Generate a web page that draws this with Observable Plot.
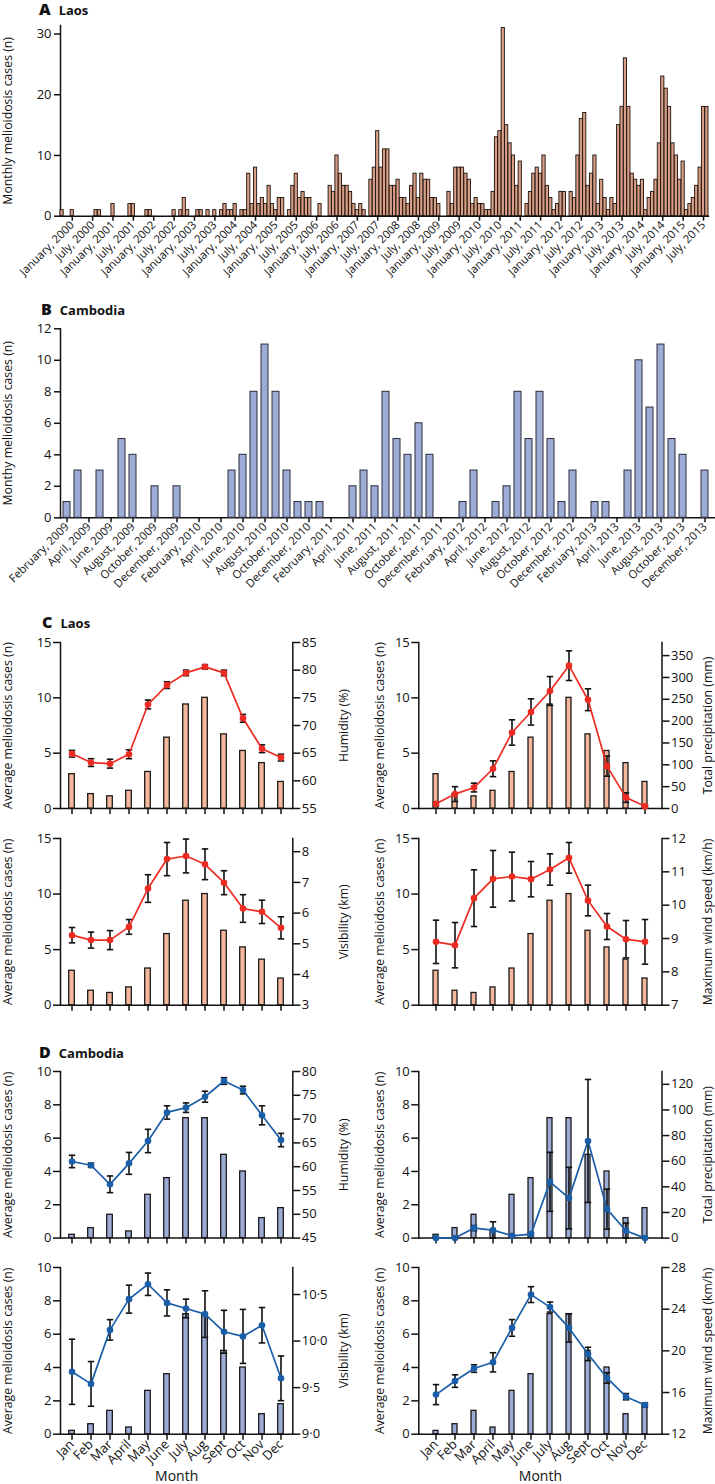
<!DOCTYPE html>
<html><head><meta charset="utf-8">
<script src="https://cdn.jsdelivr.net/npm/d3@7"></script>
<script src="https://cdn.jsdelivr.net/npm/@observablehq/plot@0.6"></script>
<style>
html,body{margin:0;padding:0;background:#fff;}
body{width:715px;height:1484px;position:relative;overflow:hidden;font-family:"Open Sans",sans-serif;}
.p{position:absolute;}
.ttl{position:absolute;font-weight:bold;font-size:13px;line-height:18px;white-space:nowrap;color:#111;}
.ttl b{font-size:16px;margin-right:8px;}
.p svg text{font-size:13px;}
.p svg g[aria-label$="axis label"] text{font-size:12.3px;}
#pA svg g[aria-label^="x-axis tick"] text, #pA svg g[aria-label="x-axis"] text{font-size:11.3px;}
#pB svg g[aria-label^="x-axis tick"] text, #pB svg g[aria-label="x-axis"] text{font-size:11.3px;}
.p svg g[aria-label="x-axis label"] text{font-size:14px;}
.p svg g[aria-label*="axis"] path, .p svg g[aria-label*="axis"] line,
.p svg line[aria-label="frame"], .p svg g[aria-label="frame"] line{stroke-width:1.5px;}
</style></head><body>
<div id="root"></div>
<script>
// ---------- Panel A: Laos monthly cases (first month Oct 1999) ----------
const laosStart = [1999, 9];
const laosMonthly = [
  1,0,0,1,0,0,0,0,0,0,
  1,1,0,0,0,2,0,0,0,0,
  2,2,0,0,0,1,1,0,0,0,
  0,0,0,1,0,1,3,1,0,0,
  1,1,0,1,0,1,0,1,2,1,
  1,2,0,1,1,7,2,8,2,3,
  2,5,2,1,3,3,0,1,5,7,
  3,4,3,3,0,0,2,0,0,5,
  4,10,7,5,5,4,2,1,2,1,
  0,6,8,14,8,11,11,5,5,6,
  3,3,2,5,7,3,7,6,6,3,
  3,2,0,0,4,2,8,8,8,7,
  6,2,3,2,2,1,1,4,13,14,
  31,15,12,10,5,9,0,2,4,7,
  8,7,10,5,3,1,2,4,4,0,
  4,3,10,16,17,5,7,10,2,6,
  3,1,3,2,15,18,26,18,7,6,
  5,6,1,3,4,6,12,23,21,18,
  12,10,6,9,1,2,3,5,8,18,
  18];
const laosTickLabels = ["January, 2000","July, 2000","January, 2001","July, 2001","January, 2002","July, 2002",
  "January, 2003","July, 2003","January, 2004","July, 2004","January, 2005","July, 2005","January, 2006","July, 2006",
  "January, 2007","July, 2007","January, 2008","July, 2008","January, 2009","July, 2009","January, 2010","July, 2010",
  "January, 2011","July, 2011","January, 2012","July, 2012","January, 2013","July, 2013","January, 2014","July, 2014",
  "January, 2015","July, 2015"];

// ---------- Panel B: Cambodia monthly cases (first month Feb 2009) ----------
const cambStart = [2009, 1];
const cambMonthly = [
  1,3,0,3,0,5,4,0,2,0,
  2,0,0,0,0,3,4,8,11,8,
  3,1,1,1,0,0,2,3,2,8,
  5,4,6,4,0,0,1,3,0,1,
  2,8,5,8,5,1,3,0,1,1,
  0,3,10,7,11,5,4,0,3];
const cambTickLabels = ["February, 2009","April, 2009","June, 2009","August, 2009","October, 2009","December, 2009",
  "February, 2010","April, 2010","June, 2010","August, 2010","October, 2010","December, 2010",
  "February, 2011","April, 2011","June, 2011","August, 2011","October, 2011","December, 2011",
  "February, 2012","April, 2012","June, 2012","August, 2012","October, 2012","December, 2012",
  "February, 2013","April, 2013","June, 2013","August, 2013","October, 2013","December, 2013"];

// ---------- Panels C & D: monthly averages ----------
const months = ["Jan","Feb","Mar","April","May","June","July","Aug","Sept","Oct","Nov","Dec"];
const laosAvgCases = [3.1,1.3,1.1,1.6,3.3,6.4,9.4,10.0,6.7,5.2,4.1,2.4];
const cambAvgCases = [0.2,0.6,1.4,0.4,2.6,3.6,7.2,7.2,5.0,4.0,1.2,1.8];

const laosHumidity = [64.9,63.3,63.1,64.8,73.8,77.3,79.5,80.6,79.5,71.3,65.8,64.2];
const laosHumidityErr = [0.6,0.7,0.8,0.8,0.8,0.6,0.5,0.4,0.5,0.7,0.7,0.6];
const laosPrecip = [11,33,48,91,174,221,269,327,249,97,25,5];
const laosPrecipErr = [4,17,10,18,29,30,33,34,25,23,11,3];
const laosVisibility = [5.28,5.12,5.12,5.55,6.80,7.76,7.86,7.59,6.99,6.15,6.04,5.52];
const laosVisibilityErr = [0.25,0.26,0.31,0.24,0.45,0.54,0.55,0.50,0.39,0.45,0.38,0.36];
const laosWind = [8.90,8.80,10.21,10.79,10.86,10.78,11.07,11.42,10.14,9.36,8.98,8.90];
const laosWindErr = [0.65,0.68,0.85,0.85,0.73,0.53,0.47,0.46,0.46,0.39,0.56,0.67];

const cambHumidity = [61.1,60.3,56.3,60.7,65.4,71.4,72.4,74.7,78.0,76.1,70.8,65.6];
const cambHumidityErr = [1.3,0.45,1.75,2.3,2.45,1.4,1.0,1.15,0.7,0.8,2.0,1.4];
const cambPrecip = [0,0,7.8,6.2,1.8,3.1,43.9,31.2,75.8,22.6,5.7,0];
const cambPrecipErr = [0,0,2,6.5,1,1,23,24,48,15.6,6,0];
const cambVisibility = [9.67,9.54,10.12,10.45,10.61,10.41,10.35,10.29,10.10,10.05,10.17,9.60];
const cambVisibilityErr = [0.35,0.24,0.11,0.15,0.12,0.14,0.10,0.25,0.23,0.29,0.19,0.24];
const cambWind = [15.8,17.1,18.3,18.9,22.2,25.4,24.2,22.2,19.7,17.4,15.6,14.8];
const cambWindErr = [0.96,0.6,0.36,0.92,0.8,0.76,0.48,1.36,0.64,0.5,0.3,0.2];

// ---------- helpers ----------
const root = document.getElementById("root");
const FONT = "'Open Sans', sans-serif";
const baseStyle = {background: "transparent", fontFamily: FONT, fontSize: "13px", color: "#111", overflow: "visible"};
function place(el, left, top, id) {
  const d = document.createElement("div");
  d.className = "p"; d.style.left = left + "px"; d.style.top = top + "px";
  if (id) d.id = id;
  d.appendChild(el); root.appendChild(d);
}
function title(letter, text, left, top) {
  const d = document.createElement("div");
  d.className = "ttl"; d.style.left = left + "px"; d.style.top = top + "px";
  d.innerHTML = "<b>" + letter + "</b>" + text;
  root.appendChild(d);
}
const fmtKey = d3.utcFormat("%Y-%m"), parseKey = d3.utcParse("%Y-%m"), fmtLong = d3.utcFormat("%B, %Y");
function monthKeys([y, m], n) { return d3.range(n).map(i => fmtKey(new Date(Date.UTC(y, m + i, 1)))); }

// ---------- Panel A ----------
const laosKeys = monthKeys(laosStart, laosMonthly.length);
const laosData = laosKeys.map((k, i) => ({month: k, cases: laosMonthly[i]})).filter(d => d.cases > 0);
title("A", "Laos", 39, 0);
place(Plot.plot({
  width: 715, height: 272, marginLeft: 60, marginRight: 7, marginTop: 25, marginBottom: 56.3,
  style: baseStyle,
  x: {type: "band", domain: laosKeys, paddingInner: 0.06, paddingOuter: 0,
      ticks: laosKeys.filter(k => laosTickLabels.includes(fmtLong(parseKey(k)))),
      tickFormat: k => fmtLong(parseKey(k)), tickRotate: -45, tickSize: 5, tickPadding: 2, line: true, label: null},
  y: {domain: [0, 31.4], ticks: [0, 10, 20, 30], tickSize: 6, tickPadding: 3, line: true,
      label: "Monthly melioidosis cases (n)", labelAnchor: "center", labelArrow: "none"},
  marks: [Plot.barY(laosData, {x: "month", y: "cases", fill: "#d99f86", stroke: "#1a100b", strokeWidth: 0.9})]
}), 0, 0, "pA");

// ---------- Panel B ----------
const cambKeys = monthKeys(cambStart, cambMonthly.length);
const cambData = cambKeys.map((k, i) => ({month: k, cases: cambMonthly[i]})).filter(d => d.cases > 0);
title("B", "Cambodia", 41, 300);
place(Plot.plot({
  width: 715, height: 330, marginLeft: 60, marginRight: 1, marginTop: 58.3, marginBottom: 82.7,
  style: baseStyle,
  x: {type: "band", domain: cambKeys, paddingInner: 0.33, paddingOuter: 0.39, align: 0.35,
      ticks: cambKeys.filter(k => cambTickLabels.includes(fmtLong(parseKey(k)))),
      tickFormat: k => fmtLong(parseKey(k)), tickRotate: -45, tickSize: 5, tickPadding: 2, line: true, label: null},
  y: {domain: [0, 12], ticks: d3.range(0, 13, 2), tickSize: 6, tickPadding: 3, line: true,
      label: "Monthy melioidosis cases (n)", labelAnchor: "center", labelArrow: "none"},
  marks: [Plot.barY(cambData, {x: "month", y: "cases", fill: "#9dabd7", stroke: "#2b2f3a", strokeWidth: 1})]
}), 0, 270, "pB");

// ---------- Panels C & D ----------
const capSymbol = {draw(ctx, size) { const r = Math.sqrt(size / Math.PI); ctx.moveTo(-r, 0); ctx.lineTo(r, 0); }};
const colL = {left: 0, width: 357, ml: 60, mr: 64.7, po: 0, inset: 6.7, lo: undefined, ro: 55.5};
const colR = {left: 357, width: 358, ml: 61.3, mr: 53.5, po: 0.11, inset: 7, lo: 43.3, ro: 50};
const dec = d => d.toFixed(1).replace(".", "\u00b7");

function dual(o) {
  const c = o.col;
  const data = months.map((m, i) => ({
    month: m, cases: o.cases[i], w: o.w[i],
    lo: Math.max(o.wdom[0], o.w[i] - o.err[i]), hi: o.w[i] + o.err[i]}));
  const mt = 12, mb = o.xlab ? 50 : 30;
  const H = o.fb - o.ft + mt + mb;
  const common = {width: c.width, height: H, marginLeft: c.ml, marginRight: c.mr, marginTop: mt, marginBottom: mb, style: baseStyle};
  const xopt = {type: "band", domain: months, paddingInner: 0, paddingOuter: c.po, align: 0.5};
  const p1 = Plot.plot({...common,
    x: {...xopt, tickSize: 6, line: true, label: o.xlab ? "Month" : null, labelAnchor: "center", labelArrow: "none",
        tickFormat: o.xlab ? (d => d) : (() => ""), tickRotate: o.xlab ? -45 : 0, tickPadding: 2},
    y: {domain: o.cdom, ticks: o.cticks, tickSize: 7, tickPadding: 2, line: true,
        label: "Average melioidosis cases (n)", labelAnchor: "center", labelArrow: "none", labelOffset: c.lo},
    marks: [Plot.barY(data, {x: "month", y: "cases", fill: o.fill, stroke: "#1a1a1a", strokeWidth: 1.3,
                             insetLeft: c.inset, insetRight: c.inset})]
  });
  const p2 = Plot.plot({...common,
    x: {...xopt, axis: null},
    y: {domain: o.wdom, ticks: o.wticks, tickFormat: o.wfmt, axis: "right", tickSize: 7, tickPadding: 2, line: true,
        label: o.wlabel, labelAnchor: "center", labelArrow: "none", labelOffset: c.ro},
    marks: [
      Plot.ruleX(data, {x: "month", y1: "lo", y2: "hi", stroke: "#111", strokeWidth: 1.6}),
      Plot.dot(data, {x: "month", y: "lo", symbol: capSymbol, r: 3.2, fill: "none", stroke: "#111", strokeWidth: 1.6}),
      Plot.dot(data, {x: "month", y: "hi", symbol: capSymbol, r: 3.2, fill: "none", stroke: "#111", strokeWidth: 1.6}),
      Plot.line(data, {x: "month", y: "w", stroke: o.color, strokeWidth: 1.7}),
      Plot.dot(data, {x: "month", y: "w", fill: o.color, r: 3.3})
    ]
  });
  place(p1, c.left, o.ft - mt);
  place(p2, c.left, o.ft - mt);
}

const RED = "#ec2b22", BLUE = "#1b5ea8", PEACH = "#f6b89c", LAV = "#9dabd7";
const fmtInt = d => String(d);
title("C", "Laos", 42, 613);
dual({col: colL, ft: 641.7, fb: 807.7, cases: laosAvgCases, cdom: [0, 15], cticks: [0, 5, 10, 15], fill: PEACH, color: RED,
  w: laosHumidity, err: laosHumidityErr, wdom: [55, 85], wticks: d3.range(55, 86, 5), wfmt: fmtInt, wlabel: "Humidity (%)"});
dual({col: colR, ft: 641.7, fb: 807.7, cases: laosAvgCases, cdom: [0, 15], cticks: [0, 5, 10, 15], fill: PEACH, color: RED,
  w: laosPrecip, err: laosPrecipErr, wdom: [0, 380], wticks: d3.range(0, 351, 50), wfmt: fmtInt, wlabel: "Total precipitation (mm)"});
dual({col: colL, ft: 838.3, fb: 1005, cases: laosAvgCases, cdom: [0, 15], cticks: [0, 5, 10, 15], fill: PEACH, color: RED,
  w: laosVisibility, err: laosVisibilityErr, wdom: [3, 8.43], wticks: d3.range(3, 9), wfmt: fmtInt, wlabel: "Visibility (km)"});
dual({col: colR, ft: 838.3, fb: 1005, cases: laosAvgCases, cdom: [0, 15], cticks: [0, 5, 10, 15], fill: PEACH, color: RED,
  w: laosWind, err: laosWindErr, wdom: [7, 12], wticks: d3.range(7, 13), wfmt: fmtInt, wlabel: "Maximum wind speed (km/h)"});

title("D", "Cambodia", 39, 1043);
dual({col: colL, ft: 1070.7, fb: 1237.3, cases: cambAvgCases, cdom: [0, 10], cticks: d3.range(0, 11, 2), fill: LAV, color: BLUE,
  w: cambHumidity, err: cambHumidityErr, wdom: [45, 80], wticks: d3.range(45, 81, 5), wfmt: fmtInt, wlabel: "Humidity (%)"});
dual({col: colR, ft: 1070.7, fb: 1237.3, cases: cambAvgCases, cdom: [0, 10], cticks: d3.range(0, 11, 2), fill: LAV, color: BLUE,
  w: cambPrecip, err: cambPrecipErr, wdom: [0, 130], wticks: d3.range(0, 121, 20), wfmt: fmtInt, wlabel: "Total precipitation (mm)"});
dual({col: colL, ft: 1267.3, fb: 1434, cases: cambAvgCases, cdom: [0, 10], cticks: d3.range(0, 11, 2), fill: LAV, color: BLUE, xlab: true,
  w: cambVisibility, err: cambVisibilityErr, wdom: [9.0, 10.79], wticks: [9.0, 9.5, 10.0, 10.5], wfmt: dec, wlabel: "Visibility (km)"});
dual({col: colR, ft: 1267.3, fb: 1434, cases: cambAvgCases, cdom: [0, 10], cticks: d3.range(0, 11, 2), fill: LAV, color: BLUE, xlab: true,
  w: cambWind, err: cambWindErr, wdom: [12, 28], wticks: [12, 16, 20, 24, 28], wfmt: fmtInt, wlabel: "Maximum wind speed (km/h)"});
</script>
</body></html>
